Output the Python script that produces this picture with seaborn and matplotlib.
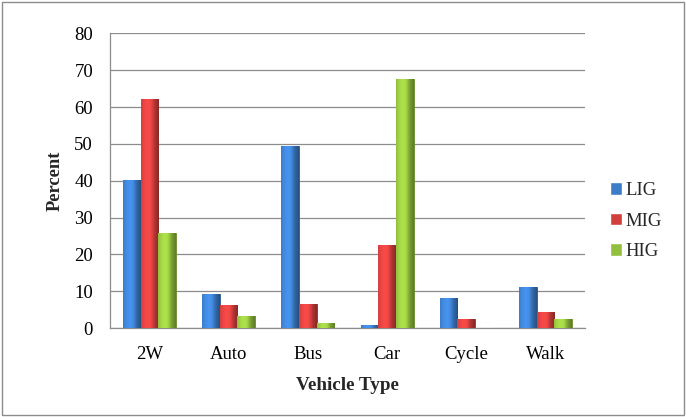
import numpy as np
import pandas as pd
import matplotlib
matplotlib.use("Agg")
import matplotlib.pyplot as plt
import matplotlib.colors as mcolors
from matplotlib.patches import Rectangle
import seaborn as sns

vehicle_types = ["2W", "Auto", "Bus", "Car", "Cycle", "Walk"]
lig = [40.2, 9.2, 49.4, 0.9, 8.2, 11.2]
mig = [62.1, 6.4, 6.6, 22.5, 2.4, 4.3]
hig = [25.9, 3.2, 1.4, 67.5, 0.0, 2.4]
groups = ["LIG", "MIG", "HIG"]
y_ticks = [0, 10, 20, 30, 40, 50, 60, 70, 80]

df = pd.DataFrame({
    "Vehicle Type": vehicle_types * 3,
    "Percent": lig + mig + hig,
    "Group": [g for g in groups for _ in vehicle_types],
})

sns.set_theme(style="white")
plt.rcParams["font.family"] = ["Liberation Serif", "DejaVu Serif"]

palette = {"LIG": "#3c7cc9", "MIG": "#d23f3d", "HIG": "#92bf3e"}

fig = plt.figure(figsize=(6.86, 4.17), dpi=100)
ax = fig.add_axes([0.160, 0.213, 0.693, 0.707])

sns.barplot(data=df, x="Vehicle Type", y="Percent", hue="Group",
            hue_order=groups, palette=palette, width=0.67,
            saturation=1, ax=ax, legend=True, zorder=3)

# cylinder-like horizontal shading on each bar
for patch in ax.patches:
    if not isinstance(patch, Rectangle):
        continue
    h = patch.get_height()
    if h <= 0:
        continue
    x0 = patch.get_x()
    w = patch.get_width()
    base = np.array(mcolors.to_rgb(patch.get_facecolor()))
    t = np.linspace(0, 1, 64)
    shade = 1.0 + 0.18 * np.sin(np.pi * np.clip(t * 1.3, 0, 1)) - 0.35 * np.clip((t - 0.55) / 0.45, 0, 1)
    img = np.clip(base[None, :] * shade[:, None], 0, 1)[None, :, :]
    im = ax.imshow(img, extent=[x0, x0 + w, 0, h], aspect="auto",
                   interpolation="bilinear", zorder=4)
    im.set_clip_path(patch)
    patch.set_edgecolor(tuple(base * 0.7))
    patch.set_linewidth(0.6)

ax.set_xlim(-0.5, len(vehicle_types) - 0.5)
ax.set_ylim(0, 80)
ax.set_yticks(y_ticks)
ax.yaxis.grid(True, color="#8c8c8c", linewidth=0.9, zorder=0)
ax.set_axisbelow(True)

# category boundary ticks on the x axis
ax.set_xticks(np.arange(len(vehicle_types)))
ax.set_xticklabels(vehicle_types)
ax.set_xticks(np.arange(-0.5, len(vehicle_types)), minor=True)
ax.tick_params(axis="x", which="major", length=0, pad=13, labelsize=13.5)
ax.tick_params(axis="x", which="minor", length=6, color="#8c8c8c", width=0.9, direction="out")
ax.tick_params(axis="y", length=6, color="#8c8c8c", width=0.9, direction="out", labelsize=13.5, pad=6)
ax.tick_params(axis="both", labelcolor="black")

for side in ["top", "right"]:
    ax.spines[side].set_visible(False)
for side in ["left", "bottom"]:
    ax.spines[side].set_color("#8c8c8c")
    ax.spines[side].set_linewidth(0.9)

ax.set_xlabel("Vehicle Type", fontsize=13.8, fontweight="bold", labelpad=10)
ax.set_ylabel("Percent", fontsize=13.3, fontweight="bold", labelpad=8)

leg = ax.legend(loc="center left", bbox_to_anchor=(1.017, 0.363), frameon=False,
                fontsize=13.5, handlelength=0.62, handleheight=0.62,
                handletextpad=0.2, labelspacing=0.72)

# chart border
fig.patches.append(Rectangle((0.003, 0.005), 0.994, 0.99, transform=fig.transFigure,
                             fill=False, edgecolor="#8c8c8c", linewidth=1.0))

fig.savefig("out.png", dpi=100)
